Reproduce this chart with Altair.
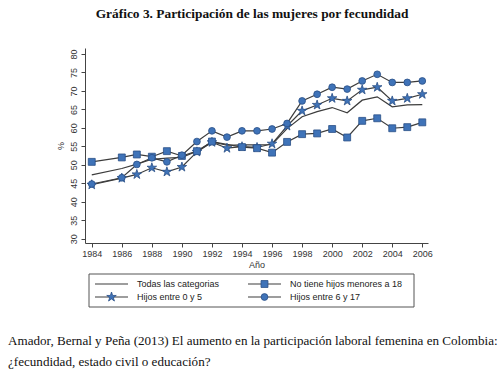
import altair as alt
import pandas as pd
import numpy as np

# ---------------- data ----------------
years = [1984, 1986, 1987, 1988, 1989, 1990, 1991, 1992, 1993, 1994, 1995,
         1996, 1997, 1998, 1999, 2000, 2001, 2002, 2003, 2004, 2005, 2006]
todas = [47.3, 49.0, 50.2, 51.5, 51.8, 52.0, 53.7, 56.2, 55.3, 55.4, 55.4,
         55.5, 59.8, 63.0, 64.4, 65.5, 64.1, 67.5, 68.4, 65.7, 66.2, 66.3]
no_tiene = [50.8, 52.0, 52.8, 52.2, 53.7, 52.4, 53.7, 56.3, None, 54.8, 54.5,
            53.3, 56.2, 58.3, 58.5, 59.7, 57.4, 61.9, 62.6, 59.9, 60.2, 61.5]
hijos_0_5 = [44.6, 46.4, 47.4, 49.2, 48.1, 49.4, 53.5, 56.1, 54.5, 54.9, 54.7,
             55.7, 60.5, 64.6, 66.2, 68.0, 67.3, 70.3, 71.0, 67.3, 68.0, 69.1]
hijos_6_17 = [44.8, 46.5, 50.1, 51.9, 50.8, 52.6, 56.3, 59.2, 57.5, 59.2, 59.2,
              59.7, 61.2, 67.3, 69.1, 71.0, 70.5, 72.7, 74.5, 72.3, 72.3, 72.7]

series_names = ["Todas las categorias", "No tiene hijos menores a 18",
                "Hijos entre 0 y 5", "Hijos entre 6 y 17"]
x_ticks = list(range(1984, 2007, 2))
y_ticks = list(range(30, 81, 5))

title_text = "Gráfico 3. Participación de las mujeres por fecundidad"
caption_1 = ("Amador, Bernal y Peña (2013) El aumento en la participación "
             "laboral femenina en Colombia:")
caption_2 = "¿fecundidad, estado civil o educación?"

rows = []
for name, vals in zip(series_names, [todas, no_tiene, hijos_0_5, hijos_6_17]):
    for yr, v in zip(years, vals):
        if v is not None:
            rows.append({"year": yr, "value": v, "series": name})
df = pd.DataFrame(rows)

# ---------------- styles ----------------
BLUE = "#3f73b8"
EDGE = "#2a4f86"
LINE = "#3c3c3c"
SANS = "Liberation Sans"
SERIF = "Liberation Serif"


def star_path(scale=1.0):
    pts = []
    for k in range(10):
        ang = np.deg2rad(-90 + 36 * k)
        r = 1.0 if k % 2 == 0 else 0.382
        pts.append((scale * r * np.cos(ang), scale * r * np.sin(ang)))
    return "M" + "L".join(f"{x:.3f},{y:.3f}" for x, y in pts) + "Z"


STAR = star_path(1.0)
markers = {
    series_names[1]: ("square", 48),
    series_names[2]: (STAR, 100),
    series_names[3]: ("circle", 46),
}

x_enc = alt.X("year:Q",
              scale=alt.Scale(domain=[1983.55, 2006.38], nice=False, zero=False),
              axis=alt.Axis(values=x_ticks, format="d", title="Año", grid=False,
                            labelFont=SANS, labelFontSize=9, labelColor="#333",
                            titleFont=SANS, titleFontSize=9, titleFontWeight="normal",
                            titleColor="#333", titlePadding=2, tickSize=4,
                            labelPadding=2, domainColor="#444", tickColor="#444",
                            labelFlush=False))
y_enc = alt.Y("value:Q",
              scale=alt.Scale(domain=[28.84, 81.62], nice=False, zero=False),
              axis=alt.Axis(values=y_ticks, title="%", grid=False, labelAngle=270,
                            labelAlign="center", labelBaseline="bottom",
                            labelFont=SANS, labelFontSize=9, labelColor="#333",
                            titleFont=SANS, titleFontSize=9, titleFontWeight="normal",
                            titleColor="#333", titlePadding=4, tickSize=4,
                            labelPadding=3, domainColor="#444", tickColor="#444",
                            labelFlush=False))

layers = []
# lines, then markers (stars, squares, circles)
for name in series_names:
    layers.append(
        alt.Chart(df).transform_filter(alt.datum.series == name)
        .mark_line(color=LINE, strokeWidth=1.2)
        .encode(x=x_enc, y=y_enc)
    )
for name in [series_names[2], series_names[1], series_names[3]]:
    shape, size = markers[name]
    layers.append(
        alt.Chart(df).transform_filter(alt.datum.series == name)
        .mark_point(shape=shape, size=size, filled=True, opacity=1, fill=BLUE,
                    stroke=EDGE, strokeWidth=0.8)
        .encode(x=x_enc, y=y_enc)
    )

# ---------------- legend (drawn) ----------------
one = pd.DataFrame({"k": [0]})
LEG_COL_X = [10, 163]
LEG_ROW_Y = [236, 249]
SYM_LEN = 33
GAP = 9
legend_slots = [(0, 0), (1, 0), (0, 1), (1, 1)]

layers.append(
    alt.Chart(one).mark_rect(fillOpacity=0, stroke="#555", strokeWidth=1)
    .encode(x=alt.value(4), x2=alt.value(329), y=alt.value(226), y2=alt.value(259))
)
for name, (c, r) in zip(series_names, legend_slots):
    x0 = LEG_COL_X[c]
    yy = LEG_ROW_Y[r]
    layers.append(
        alt.Chart(one).mark_rule(color=LINE, strokeWidth=1.2)
        .encode(x=alt.value(x0), x2=alt.value(x0 + SYM_LEN), y=alt.value(yy))
    )
    if name in markers:
        shape, size = markers[name]
        layers.append(
            alt.Chart(one).mark_point(shape=shape, size=size, filled=True, opacity=1,
                                      fill=BLUE, stroke=EDGE, strokeWidth=0.8)
            .encode(x=alt.value(x0 + SYM_LEN / 2), y=alt.value(yy))
        )
    layers.append(
        alt.Chart(pd.DataFrame({"t": [name]})).mark_text(
            font=SANS, fontSize=9, color="#222", align="left", baseline="middle")
        .encode(text="t:N", x=alt.value(x0 + SYM_LEN + GAP), y=alt.value(yy))
    )

# ---------------- title and caption ----------------
layers.append(
    alt.Chart(pd.DataFrame({"t": [title_text]})).mark_text(
        font=SERIF, fontSize=13.4, fontWeight="bold", color="#111", align="center",
        baseline="middle")
    .encode(text="t:N", x=alt.value(167), y=alt.value(-34))
)
layers.append(
    alt.Chart(pd.DataFrame({"t": [caption_1]})).mark_text(
        font=SERIF, fontSize=13.1, color="#111", align="left", baseline="middle")
    .encode(text="t:N", x=alt.value(-77), y=alt.value(293))
)
layers.append(
    alt.Chart(pd.DataFrame({"t": [caption_2]})).mark_text(
        font=SERIF, fontSize=13.1, color="#111", align="left", baseline="middle")
    .encode(text="t:N", x=alt.value(-77), y=alt.value(314))
)

chart = alt.layer(*layers).properties(
    width=343, height=195,
    padding={"left": 85, "top": 48, "right": 76, "bottom": 134},
    autosize=alt.AutoSizeParams(type="none"),
    background="white",
).configure_view(stroke=None)

chart.save("out.html", embed_options={"renderer": "svg", "actions": False})
